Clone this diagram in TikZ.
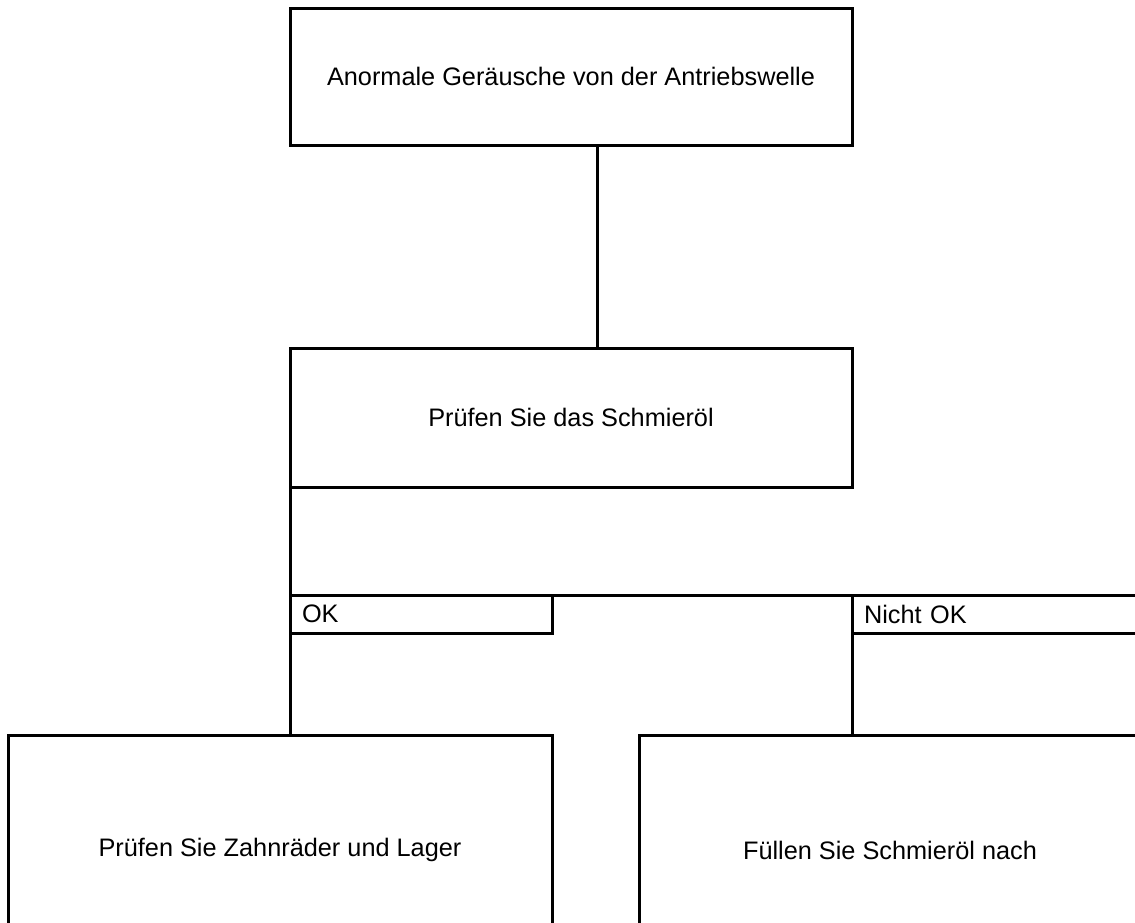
\documentclass[tikz,border=0pt]{standalone}
\usepackage{fontspec}
\setmainfont{Liberation Sans}
\usetikzlibrary{positioning}

\begin{document}
\begin{tikzpicture}[x=1pt,y=-1pt,line width=3pt,
  box/.style={draw,rectangle,font=\fontsize{25.3}{30}\selectfont,inner sep=0pt,outer sep=0pt},
  tag/.style={draw,rectangle,font=\fontsize{25.3}{30}\selectfont,inner xsep=12pt,inner ysep=0pt,outer sep=0pt,align=left,minimum height=38}]
\useasboundingbox (0,0) rectangle (1135,922);
\clip (0,0) rectangle (1135,922);
\node[box,minimum width=562,minimum height=137] (fault) at (571,76.5) {Anormale Geräusche von der Antriebswelle};
\node[box,minimum width=562,minimum height=139] (check) at (571,417.5) {Prüfen Sie das Schmieröl};
\node[tag,text width=238] (ok) at (421,614) {OK};
\node[tag,text width=265] (nok) at (996.5,614) {Nicht OK};
\node[box,minimum width=544,minimum height=230] (gears) at (280,850) {Prüfen Sie Zahnräder und Lager};
\node[box,minimum width=502,minimum height=230] (refill) at (890,850) {Füllen Sie Schmieröl nach};
% connectors
\coordinate (drop) at (597,145);
\draw (drop) -- (drop |- check.north);
\draw (check.south west) -- (ok.north west);
\draw (ok.north east) -- (nok.north west);
\draw (ok.south west) -- (ok.south west |- gears.north);
\draw (nok.south west) -- (nok.south west |- refill.north);
\end{tikzpicture}
\end{document}
